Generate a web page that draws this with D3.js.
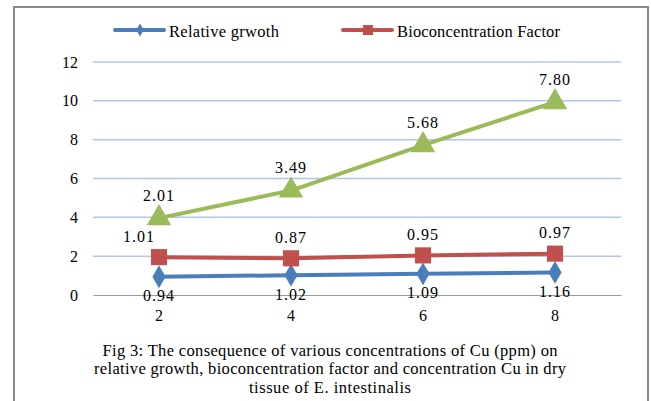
<!DOCTYPE html>
<html>
<head>
<meta charset="utf-8">
<script src="https://cdn.jsdelivr.net/npm/d3@7"></script>
<style>
  html, body { margin: 0; padding: 0; background: #fff; }
  svg { display: block; }
  text { font-family: "Liberation Serif", "Times New Roman", serif; fill: #000; }
</style>
</head>
<body>
<svg id="chart" width="651" height="401"></svg>
<script>
// Cu concentration (ppm)
const concentrations = ["2", "4", "6", "8"];
// Series values (stacked line chart)
const relativeGrowth = [0.94, 1.02, 1.09, 1.16];
const bioconcentrationFactor = [1.01, 0.87, 0.95, 0.97];
const cuConcentration = [2.01, 3.49, 5.68, 7.80];
const yTicks = [0, 2, 4, 6, 8, 10, 12];
const seriesNames = ["Relative grwoth", "Bioconcentration Factor", "Cu in dry tissue"];
const captionLines = [
  "Fig 3: The consequence of various concentrations of Cu (ppm) on",
  "relative growth, bioconcentration factor and concentration Cu in dry",
  "tissue of E. intestinalis"
];

const svg = d3.select("#chart");
const serif = '"Liberation Serif", "Times New Roman", serif';

// outer frame
svg.append("rect")
  .attr("x", 14).attr("y", 7).attr("width", 634).attr("height", 420)
  .attr("fill", "#fff").attr("stroke", "#8a8a8a").attr("stroke-width", 2);

const plot = { left: 93, right: 621, top: 62, bottom: 295 };

const x = d3.scaleBand().domain(concentrations).range([plot.left, plot.right]);
const y = d3.scaleLinear().domain([0, 12]).range([plot.bottom, plot.top]);
const cx = c => x(c) + x.bandwidth() / 2;

// gridlines
svg.append("g").selectAll("line")
  .data(yTicks.filter(t => t > 0))
  .join("line")
  .attr("x1", plot.left).attr("x2", plot.right)
  .attr("y1", d => y(d)).attr("y2", d => y(d))
  .attr("stroke", "#b3c6e7").attr("stroke-width", 1.5);

// y axis labels
const yAxis = d3.axisLeft(y).tickValues(yTicks).tickSize(0).tickPadding(15);
const gy = svg.append("g").attr("transform", `translate(${plot.left},0)`).call(yAxis);
gy.select(".domain").remove();
gy.selectAll("text").style("font-family", serif).style("font-size", "16px");

// x axis
const xAxis = d3.axisBottom(x).tickSize(0).tickPadding(15);
const gx = svg.append("g").attr("transform", `translate(0,${plot.bottom})`).call(xAxis);
gx.select(".domain").attr("stroke", "#9a9a9a").attr("stroke-width", 1);
gx.selectAll("text").style("font-family", serif).style("font-size", "16px");

// stacked series
const table = concentrations.map((c, i) => ({
  c, a: relativeGrowth[i], b: bioconcentrationFactor[i], g: cuConcentration[i]
}));
const stacked = d3.stack().keys(["a", "b", "g"])(table);

const colors = ["#4a7ebb", "#c0504d", "#9bbb59"];
const shapes = [d3.symbolDiamond, d3.symbolSquare, d3.symbolTriangle];
const sizes = [150, 260, 260];

const line = d3.line()
  .x(d => cx(d.data.c))
  .y(d => y(d[1]));

stacked.forEach((s, k) => {
  const g = svg.append("g");
  g.append("path").datum(s)
    .attr("d", line).attr("fill", "none")
    .attr("stroke", colors[k]).attr("stroke-width", 4)
    .attr("stroke-linejoin", "round");
  g.selectAll("path.m").data(s).join("path")
    .attr("class", "m")
    .attr("transform", d => `translate(${cx(d.data.c)},${y(d[1])})`)
    .attr("d", d3.symbol().type(shapes[k]).size(sizes[k]))
    .attr("fill", colors[k]);
});

// data labels: each series shows its own value
const offsets = [19, -21, -23];
stacked.forEach((s, k) => {
  svg.append("g").selectAll("text").data(s).join("text")
    .attr("x", (d, i) => cx(d.data.c) + (k === 1 && i === 0 ? -20 : 0))
    .attr("y", d => y(d[1]) + offsets[k])
    .attr("text-anchor", "middle")
    .attr("dominant-baseline", "central")
    .style("font-family", serif)
    .style("font-size", "16px")
    .style("letter-spacing", "1px")
    .text(d => (d[1] - d[0]).toFixed(2));
});

// legend (two entries)
const legendItems = [
  { name: seriesNames[0], color: colors[0], shape: d3.symbolDiamond, size: 50, x: 115, w: 110 },
  { name: seriesNames[1], color: colors[1], shape: d3.symbolSquare, size: 100, x: 343, w: 163 }
];
const lg = svg.append("g");
legendItems.forEach(it => {
  lg.append("line")
    .attr("x1", it.x).attr("x2", it.x + 49).attr("y1", 30).attr("y2", 30)
    .attr("stroke", it.color).attr("stroke-width", 4).attr("stroke-linecap", "round");
  lg.append("path")
    .attr("transform", `translate(${it.x + 25},30)`)
    .attr("d", d3.symbol().type(it.shape).size(it.size))
    .attr("fill", it.color);
  lg.append("text")
    .attr("x", it.x + 54).attr("y", 31)
    .attr("dominant-baseline", "central")
    .attr("textLength", it.w).attr("lengthAdjust", "spacing")
    .style("font-size", "16.5px")
    .text(it.name);
});

// caption
const capWidths = [455, 472, 162];
svg.append("g").selectAll("text").data(captionLines).join("text")
  .attr("x", 330).attr("y", (d, i) => 350 + i * 18.5)
  .attr("text-anchor", "middle")
  .attr("dominant-baseline", "central")
  .attr("textLength", (d, i) => capWidths[i]).attr("lengthAdjust", "spacing")
  .style("font-size", "16.5px")
  .text(d => d);
</script>
</body>
</html>
